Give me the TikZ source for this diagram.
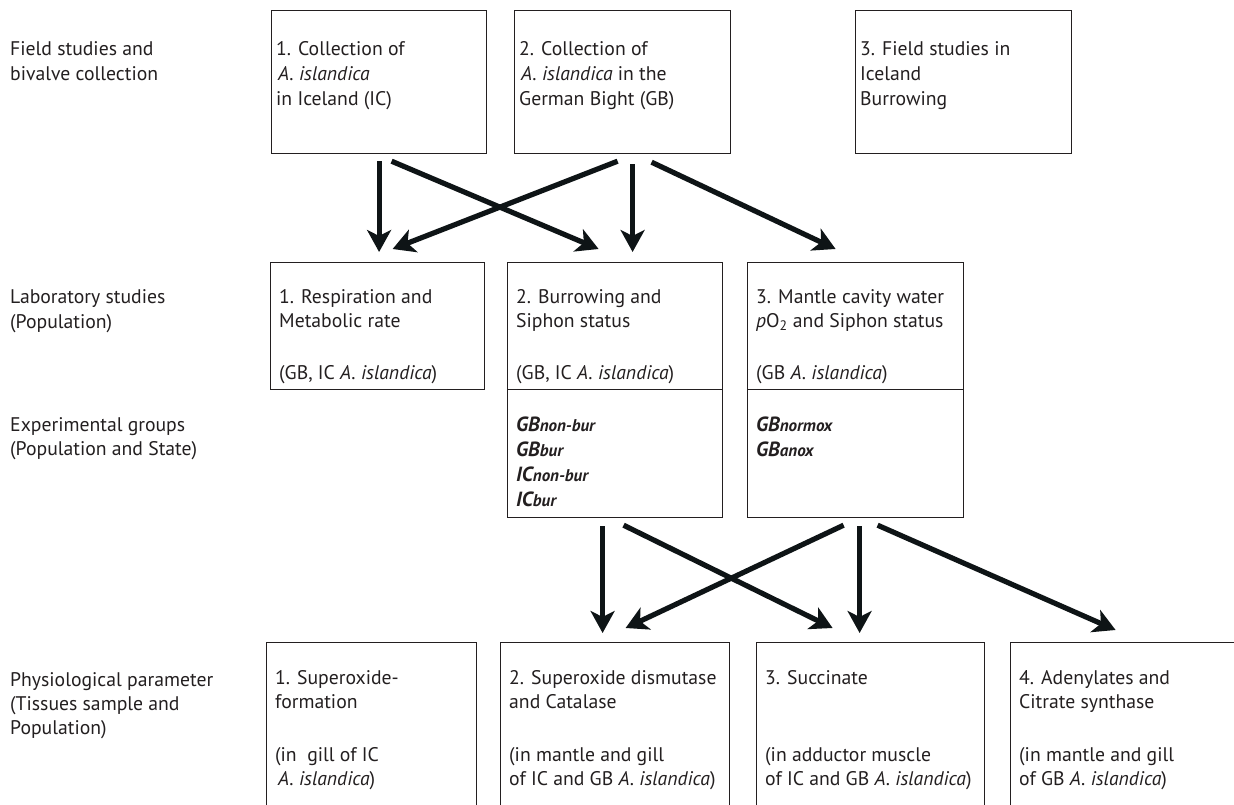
\documentclass[tikz,border=0pt]{standalone}
\usepackage{fontspec}
\setmainfont{PT Sans}
\usetikzlibrary{arrows.meta}
\definecolor{arrowcol}{RGB}{14,20,22}
\definecolor{inkcol}{RGB}{35,31,32}
\begin{document}
\begin{tikzpicture}[x=1pt,y=-1pt,
  box/.style={draw=inkcol, line width=1.2pt, inner sep=0pt, anchor=north west, rectangle},
  txt/.style={anchor=north west, inner sep=0pt, align=left, text=inkcol,
              font=\fontsize{19.7}{24}\selectfont},
  txtw/.style={txt, font=\fontsize{19.7}{25}\selectfont},
  arr/.style={draw=arrowcol, line width=5.2pt, -{Stealth[length=22pt,width=24pt,inset=6pt]}},
  grp/.style={txt, font=\fontsize{20.5}{25}\selectfont\bfseries\itshape}]
\useasboundingbox (0,0) rectangle (1234,805);
\clip (0,0) rectangle (1234,805);
\fill[white] (0,0) rectangle (1234,805);
\newcommand\sm[1]{{\fontsize{17}{18}\selectfont #1}}

% left labels
\node[txtw] (l1) at (10,41) {Field studies and\\bivalve collection};
\node[txtw] (l2) at (10,289) {Laboratory studies\\(Population)};
\node[txt] (l3) at (10,417) {Experimental groups\\(Population and State)};
\node[txt] (l4) at (10,672) {Physiological parameter\\(Tissues sample and\\Population)};

% top row
\node[box, minimum width=215pt, minimum height=143pt] (top1) at (271,10) {};
\node[box, minimum width=216pt, minimum height=143pt] (top2) at (514,10) {};
\node[box, minimum width=216pt, minimum height=143pt] (top3) at (855,10) {};
\node[txtw] (t1) at (276,41) {1. Collection of\\\hspace{2pt}\textit{A. islandica}\\in Iceland (IC)};
\node[txtw] (t2) at (519,41) {2. Collection of\\\hspace{2pt}\textit{A. islandica} in the\\German Bight (GB)};
\node[txtw] (t3) at (860,41) {3. Field studies in\\Iceland\\Burrowing};

% middle row
\node[box, minimum width=214pt, minimum height=127pt] (mid1) at (270,262) {};
\node[box, minimum width=215pt, minimum height=127pt] (mid2) at (507,262) {};
\node[box, minimum width=216pt, minimum height=127pt] (mid3) at (747,262) {};
\node[box, minimum width=215pt, minimum height=128pt] (grp2) at (507,389) {};
\node[box, minimum width=216pt, minimum height=128pt] (grp3) at (747,389) {};
\node[txt] (m1) at (279,289) {1. Respiration and\\Metabolic rate\\[28pt](GB, IC \textit{A. islandica})};
\node[txt] (m2) at (516,289) {2. Burrowing and\\Siphon status\\[28pt](GB, IC \textit{A. islandica})};
\node[txt] (m3) at (756,289) {3. Mantle cavity water\\\textit{p}O\textsubscript{2} and Siphon status\\[28pt](GB \textit{A. islandica})};
\node[grp] (g2) at (516,417) {GB\sm{non-bur}\\GB\sm{bur}\\IC\sm{non-bur}\\IC\sm{bur}};
\node[grp] (g3) at (756,417) {GB\sm{normox}\\GB\sm{anox}};

% bottom row
\node[box, minimum width=210pt, minimum height=200pt] (bot1) at (266,642) {};
\node[box, minimum width=229pt, minimum height=200pt] (bot2) at (500,642) {};
\node[box, minimum width=228pt, minimum height=200pt] (bot3) at (756,642) {};
\node[box, minimum width=228pt, minimum height=200pt] (bot4) at (1010,642) {};
\node[txt] (b1) at (275,670) {1. Superoxide-\\formation\\[29pt](in\ \ gill of IC\\\hspace{3pt}\textit{A. islandica})};
\node[txt] (b2) at (509,670) {2. Superoxide dismutase\\and Catalase\\[29pt](in mantle and gill\\of IC and GB \textit{A. islandica})};
\node[txt] (b3) at (765,670) {3. Succinate\\[53pt](in adductor muscle\\of IC and GB \textit{A. islandica})};
\node[txt] (b4) at (1019,670) {4. Adenylates and\\Citrate synthase\\[29pt](in mantle and gill\\of GB \textit{A. islandica})};

% arrows top -> middle
\draw[arr] ([yshift=-7pt]top1.south) -- ([xshift=1.5pt,yshift=10pt]mid1.north);
\draw[arr] ([xshift=12.5pt,yshift=-7pt]top1.south) -- ([xshift=-16.5pt,yshift=13pt]mid2.north);
\draw[arr] ([xshift=-5pt,yshift=-7pt]top2.south) -- ([xshift=15pt,yshift=13pt]mid1.north);
\draw[arr] ([xshift=10pt,yshift=-10pt]top2.south) -- ([xshift=17.5pt,yshift=10pt]mid2.north);
\draw[arr] ([xshift=29pt,yshift=-8pt]top2.south) -- ([xshift=-20pt,yshift=13pt]mid3.north);

% arrows middle -> bottom
\draw[arr] ([xshift=-12.5pt,yshift=-8pt]grp2.south) -- ([xshift=-12.5pt,yshift=9pt]bot2.north);
\draw[arr] ([xshift=8.5pt,yshift=-7pt]grp2.south) -- ([xshift=-38pt,yshift=14pt]bot3.north);
\draw[arr] ([xshift=-12pt,yshift=-7pt]grp3.south) -- ([xshift=10.5pt,yshift=14pt]bot2.north);
\draw[arr] ([xshift=4pt,yshift=-8pt]grp3.south) -- ([xshift=-11pt,yshift=9pt]bot3.north);
\draw[arr] ([xshift=22pt,yshift=-7pt]grp3.south) -- ([xshift=-9pt,yshift=12pt]bot4.north);
\end{tikzpicture}
\end{document}
